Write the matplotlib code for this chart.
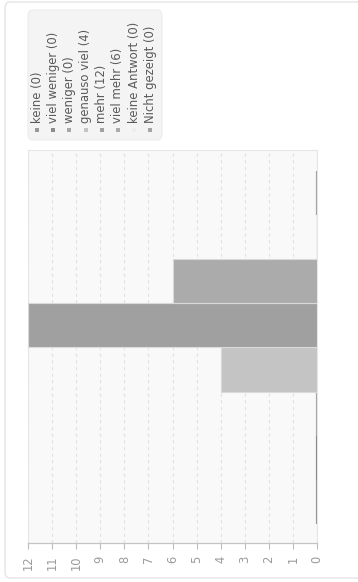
import matplotlib
matplotlib.use("Agg")
import matplotlib.pyplot as plt
from matplotlib.patches import FancyBboxPatch, Rectangle

# answer categories, bottom to top
categories = ["keine", "viel weniger", "weniger", "genauso viel", "mehr",
              "viel mehr", "keine Antwort", "Nicht gezeigt"]
counts = [0, 0, 0, 4, 12, 6, 0, 0]
colors = ["#999999", "#8c8c8c", "#a8a8a8", "#c4c4c4", "#a0a0a0",
          "#ababab", "#eeeeee", "#a4a4a4"]
ticks = list(range(0, 13))

W, H = 358, 582
plt.rcParams['font.family'] = ['DejaVu Sans']
plt.rcParams['hatch.linewidth'] = 0.4
plt.rcParams['hatch.color'] = '#ececec'

fig = plt.figure(figsize=(W / 100, H / 100), dpi=100)
fig.patch.set_facecolor('white')

def fx(x):
    return x / W

def fy(y):
    return 1 - y / H

# outer rounded frame
frame = FancyBboxPatch((fx(5), fy(578)), fx(400) - fx(5), fy(2) - fy(578),
                       boxstyle="round,pad=0,rounding_size=0.012",
                       transform=fig.transFigure, facecolor='none',
                       edgecolor='#e4e4e4', linewidth=1.0, clip_on=False)
fig.patches.append(frame)

ax = fig.add_axes([fx(28), fy(543), fx(317) - fx(28), fy(150) - fy(543)])
ax.patch.set_facecolor('#f9f9f9')
ax.patch.set_hatch('\\\\\\\\\\\\')

pos = list(range(len(categories)))
edge = [c if v == 0 else '#dadada' for v, c in zip(counts, colors)]
lw = [1.6 if v == 0 else 0.8 for v in counts]
ax.barh(pos, counts, height=1.0, color=colors, edgecolor=edge, linewidth=lw, zorder=3)

ax.set_xlim(12, 0)
ax.set_ylim(-0.93, 7.97)
ax.set_xticks(ticks)
ax.set_xticklabels([str(t) for t in ticks], rotation=90, color='#9a9a9a', fontsize=8.3)
ax.set_yticks([])
ax.tick_params(axis='x', length=4, width=0.8, color='#bbbbbb', pad=5)
ax.grid(axis='x', color='#e2e2e2', linestyle=(0, (3, 3)), linewidth=0.8, zorder=1)
ax.set_axisbelow(True)
for side in ['top', 'left', 'right']:
    ax.spines[side].set_color('#e6e6e6')
    ax.spines[side].set_linewidth(0.8)
ax.spines['bottom'].set_color('#c4c4c4')
ax.spines['bottom'].set_linewidth(0.9)

# legend box, items run left to right with rotated text
leg = FancyBboxPatch((fx(28), fy(140)), fx(162) - fx(28), fy(10) - fy(140),
                     boxstyle="round,pad=0,rounding_size=0.012",
                     transform=fig.transFigure, facecolor='#f4f4f4',
                     edgecolor='#ececec', linewidth=0.8)
fig.patches.append(leg)
for i, (cat, v, c) in enumerate(zip(categories, counts, colors)):
    x = 37 + i * 16.2
    fig.patches.append(Rectangle((fx(x - 2), fy(132)), fx(4), 4 / H,
                                 transform=fig.transFigure, facecolor=c,
                                 edgecolor='none'))
    fig.text(fx(x), fy(123), f"{cat} ({v})", rotation=90, ha='center', va='bottom',
             fontsize=8.4, color='#5a5a5a')

fig.savefig("out.png", dpi=100)
